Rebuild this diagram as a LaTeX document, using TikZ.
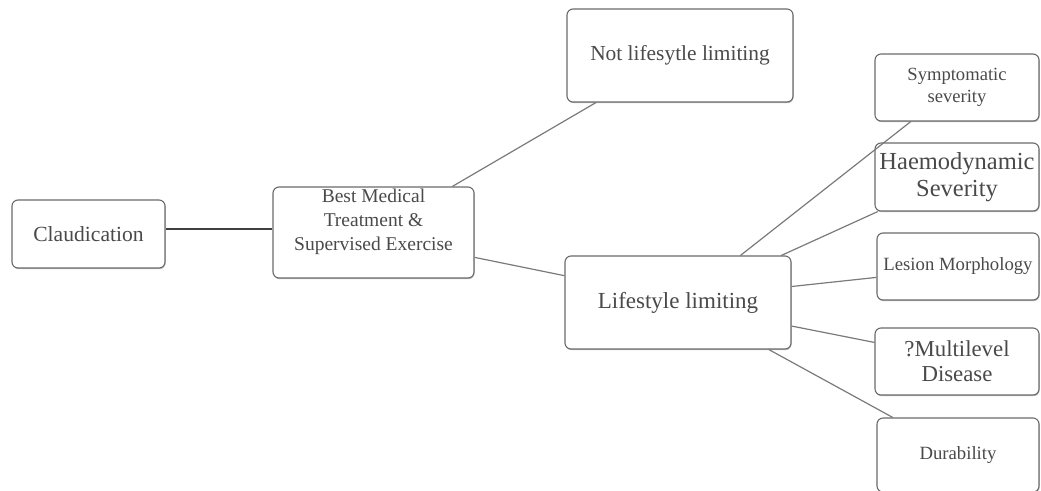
\documentclass[tikz,border=0pt]{standalone}
\usepackage{fontspec}
\setmainfont{Liberation Serif}
\usetikzlibrary{calc,shadows}
\newcommand{\fsz}[2]{\fontsize{#1}{#2}\selectfont}
\definecolor{txt}{HTML}{4A4A4A}
\definecolor{edge}{HTML}{6A6A6A}
\definecolor{conn}{HTML}{7A7A7A}
\tikzset{
  box/.style={draw=edge, line width=1.1pt, rounded corners=6pt, fill=white,
    text=txt, align=center, inner sep=0pt,
    drop shadow={shadow xshift=0.6pt, shadow yshift=-1.2pt, opacity=0.25, fill=black}},
  link/.style={draw=conn, line width=1.2pt},
}
\begin{document}
\begin{tikzpicture}[x=1pt,y=-1pt]
\useasboundingbox (0,0) rectangle (1041,490);
\node[box, minimum width=153, minimum height=68, font=\fsz{21.6}{24}] (claud) at (88.5,234) {Claudication};
\node[box, minimum width=201, minimum height=91,
  label={[text=txt, align=center, yshift=11, inner sep=0pt, font=\fsz{19.5}{24}]center:Best Medical\\Treatment \&\\Supervised Exercise}] (best) at (373.5,232.5) {};
\node[box, minimum width=226, minimum height=93, font=\fsz{21.4}{24}] (notl) at (680,55.5) {Not lifesytle limiting};
\node[box, minimum width=226, minimum height=93, font=\fsz{23}{24}] (life) at (678,302.5) {Lifestyle limiting};
\node[box, minimum width=164, minimum height=67, font=\fsz{18.6}{22}] (symp) at (957,87.5) {Symptomatic\\severity};
\node[box, minimum width=164, minimum height=68, font=\fsz{24.5}{27}] (haem) at (957,177) {Haemodynamic\\Severity};
\node[box, minimum width=162, minimum height=67, font=\fsz{18.7}{22}] (lesi) at (958,266.5) {Lesion Morphology};
\node[box, minimum width=164, minimum height=67, font=\fsz{22.8}{25}] (mult) at (957,361.5) {?Multilevel\\Disease};
\node[box, minimum width=162, minimum height=74, font=\fsz{18.7}{22}] (dura) at (958,455) {Durability};

\coordinate (c1) at ($(claud.north east)!0.43!(claud.south east)$);
\draw[draw=black!75, line width=2.6pt] (c1) -- (c1 -| best.west);
\draw[link] ($(best.north west)!0.89!(best.north east)$) -- ($(notl.south west)!0.13!(notl.south east)$);
\draw[link] ($(best.north east)!0.77!(best.south east)$) -- ($(life.north west)!0.215!(life.south west)$);
\draw[link] ($(life.north west)!0.775!(life.north east)$) -- ($(symp.south west)!0.22!(symp.south east)$);
\draw[link] ($(life.north west)!0.955!(life.north east)$) -- ($(haem.south west)!0.02!(haem.south east)$);
\draw[link] ($(life.north east)!0.33!(life.south east)$) -- ($(lesi.north west)!0.66!(lesi.south west)$);
\draw[link] ($(life.north east)!0.75!(life.south east)$) -- ($(mult.north west)!0.22!(mult.south west)$);
\draw[link] ($(life.south west)!0.9!(life.south east)$) -- ($(dura.north west)!0.1!(dura.north east)$);
\end{tikzpicture}
\end{document}
